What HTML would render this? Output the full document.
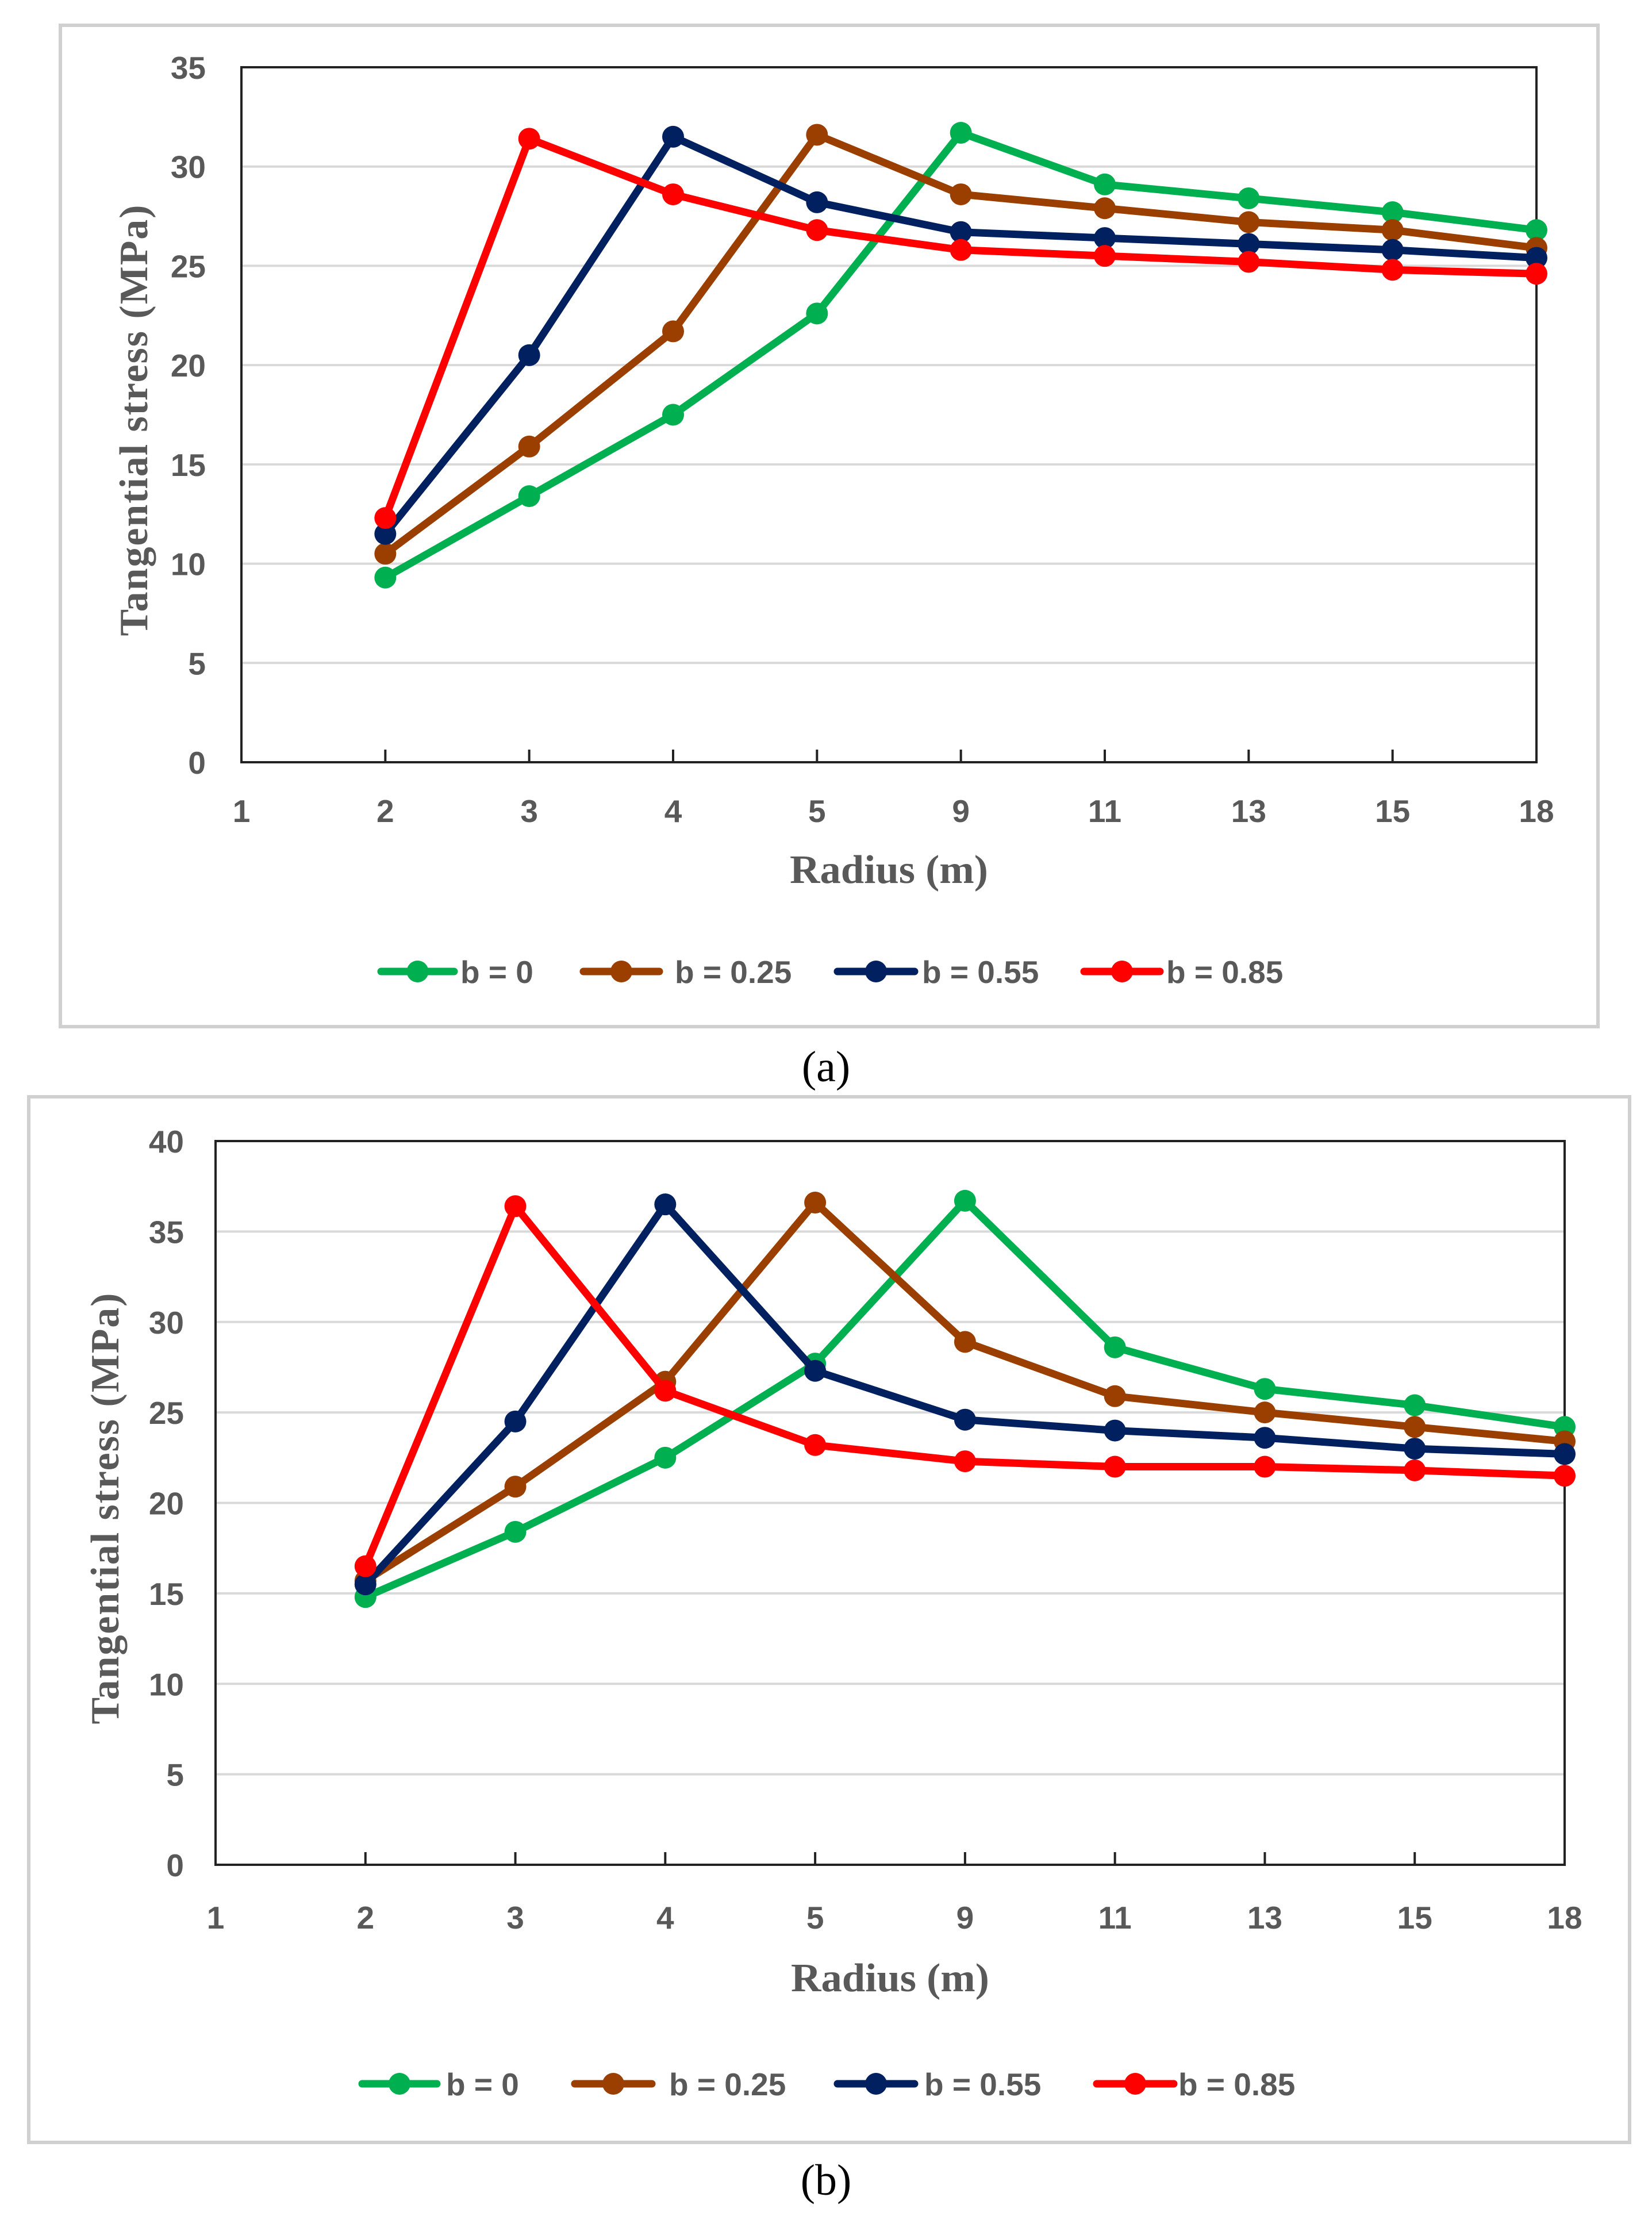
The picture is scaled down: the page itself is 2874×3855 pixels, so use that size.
<!DOCTYPE html>
<html><head><meta charset="utf-8"><style>
html,body{margin:0;padding:0;background:#fff;}
svg{display:block;}
.tick{font-family:"Liberation Sans",sans-serif;font-size:55px;font-weight:bold;fill:#595959;}
.ttl{font-family:"Liberation Serif",serif;font-size:70px;font-weight:bold;fill:#595959;}
.cap{font-family:"Liberation Serif",serif;font-size:76px;fill:#000;}
</style></head><body>
<svg id="fig" width="2874" height="3855" viewBox="0 0 2874 3855" xmlns="http://www.w3.org/2000/svg"></svg>
<script>
const categories = ["1","2","3","4","5","9","11","13","15","18"];
const seriesNames = ["b = 0","b = 0.25","b = 0.55","b = 0.85"];
const colors = ["#00B050","#9A3F00","#002060","#FF0000"];
const aGreen = [9.3,13.4,17.5,22.6,31.7,29.1,28.4,27.7,26.8];
const aBrown = [10.5,15.9,21.7,31.6,28.6,27.9,27.2,26.8,25.9];
const aNavy  = [11.5,20.5,31.5,28.2,26.7,26.4,26.1,25.8,25.4];
const aRed   = [12.3,31.4,28.6,26.8,25.8,25.5,25.2,24.8,24.6];
const bGreen = [14.8,18.4,22.5,27.7,36.7,28.6,26.3,25.4,24.2];
const bBrown = [15.7,20.9,26.7,36.6,28.9,25.9,25.0,24.2,23.4];
const bNavy  = [15.5,24.5,36.5,27.3,24.6,24.0,23.6,23.0,22.7];
const bRed   = [16.5,36.4,26.2,23.2,22.3,22.0,22.0,21.8,21.5];
const aTicks = [0,5,10,15,20,25,30,35];
const bTicks = [0,5,10,15,20,25,30,35,40];

const NS="http://www.w3.org/2000/svg";
const fig=document.getElementById('fig');
function mk(tag,attrs,parent,text){const e=document.createElementNS(NS,tag);for(const k in attrs)e.setAttribute(k,attrs[k]);if(text!==undefined)e.textContent=text;(parent||fig).appendChild(e);return e;}

function chart(cfg){
  const g=mk('g',{});
  
  
  const fr=mk('rect',{x:cfg.fx,y:cfg.fy,width:cfg.fw,height:cfg.fh,fill:'#fff',stroke:'#D0D0D0','stroke-width':6},g);
  
  
  const L=cfg.L,R=cfg.R,T=cfg.T,B=cfg.B,ymax=cfg.ticks[cfg.ticks.length-1];
  const xs=i=>L+(R-L)*i/(categories.length-1);
  const ys=v=>B-(B-T)*v/ymax;
  cfg.ticks.forEach(t=>{
    if(t>0&&t<ymax){const gl=mk('line',{x1:L,x2:R,y1:ys(t),y2:ys(t),stroke:'#D9D9D9','stroke-width':4},g);
      
      }
    const tl=mk('text',{x:cfg.ylabR,y:ys(t)+20,'text-anchor':'end',class:'tick'},g,String(t));
    
    
  });
  const box=mk('rect',{x:L,y:T,width:R-L,height:B-T,fill:'none',stroke:'#222','stroke-width':4},g);
  
  
  categories.forEach((c,i)=>{
    if(i>0){const tk=mk('line',{x1:xs(i),x2:xs(i),y1:B,y2:B-22,stroke:'#222','stroke-width':4},g);
      
      }
    const tl=mk('text',{x:xs(i),y:cfg.xlabY+20,'text-anchor':'middle',class:'tick'},g,c);
    
    
  });
  const xt=mk('text',{x:(L+R)/2,y:cfg.xtY+24,'text-anchor':'middle',class:'ttl',textLength:345,lengthAdjust:'spacingAndGlyphs'},g,'Radius (m)');
  
  
  const yt=mk('text',{x:0,y:0,'text-anchor':'middle',class:'ttl',transform:`translate(${cfg.ytX+22},${(T+B)/2+10}) rotate(-90)`,textLength:750,lengthAdjust:'spacing'},g,'Tangential stress (MPa)');
  
  
  cfg.series.forEach((vals,s)=>{
    const pts=vals.map((v,i)=>[xs(i+1),ys(v)]);
    const pl=mk('polyline',{points:pts.map(p=>p.join(',')).join(' '),fill:'none',stroke:colors[s],'stroke-width':13,'stroke-linejoin':'round','stroke-linecap':'round'},g);
    
    
    pts.forEach(p=>{const c=mk('circle',{cx:p[0],cy:p[1],r:19,fill:colors[s]},g);
      
      });
  });
  cfg.legend.forEach((lx,s)=>{
    const lg=mk('g',{},g);
    
    
    mk('line',{x1:lx[0],x2:lx[1],y1:cfg.legY,y2:cfg.legY,stroke:colors[s],'stroke-width':13,'stroke-linecap':'round'},lg);
    mk('circle',{cx:(lx[0]+lx[1])/2,cy:cfg.legY,r:19,fill:colors[s]},lg);
    mk('text',{x:lx[2],y:cfg.legY+20,class:'tick'},lg,seriesNames[s]);
  });
  const cp=mk('text',{x:1437,y:cfg.capY+26,'text-anchor':'middle',class:'cap'},fig,cfg.cap);
  
  
}
chart({name:'chart-a',fx:105,fy:44,fw:2675,fh:1742,L:420,R:2673,T:117,B:1326,ticks:aTicks,ylabR:358,xlabY:1410,xtY:1512,ytX:234,
  series:[aGreen,aBrown,aNavy,aRed],legY:1690,capY:1855,cap:'(a)',
  legend:[[663,790,801],[1015,1147,1174],[1457,1591,1604],[1886,2018,2029]]});
chart({name:'chart-b',fx:50,fy:1908,fw:2785,fh:1819,L:375,R:2722,T:1985,B:3244,ticks:bTicks,ylabR:320,xlabY:3335,xtY:3440,ytX:184,
  series:[bGreen,bBrown,bNavy,bRed],legY:3625,capY:3792,cap:'(b)',
  legend:[[630,760,776],[1000,1134,1164],[1457,1591,1608],[1908,2042,2050]]});
</script>
</body></html>
